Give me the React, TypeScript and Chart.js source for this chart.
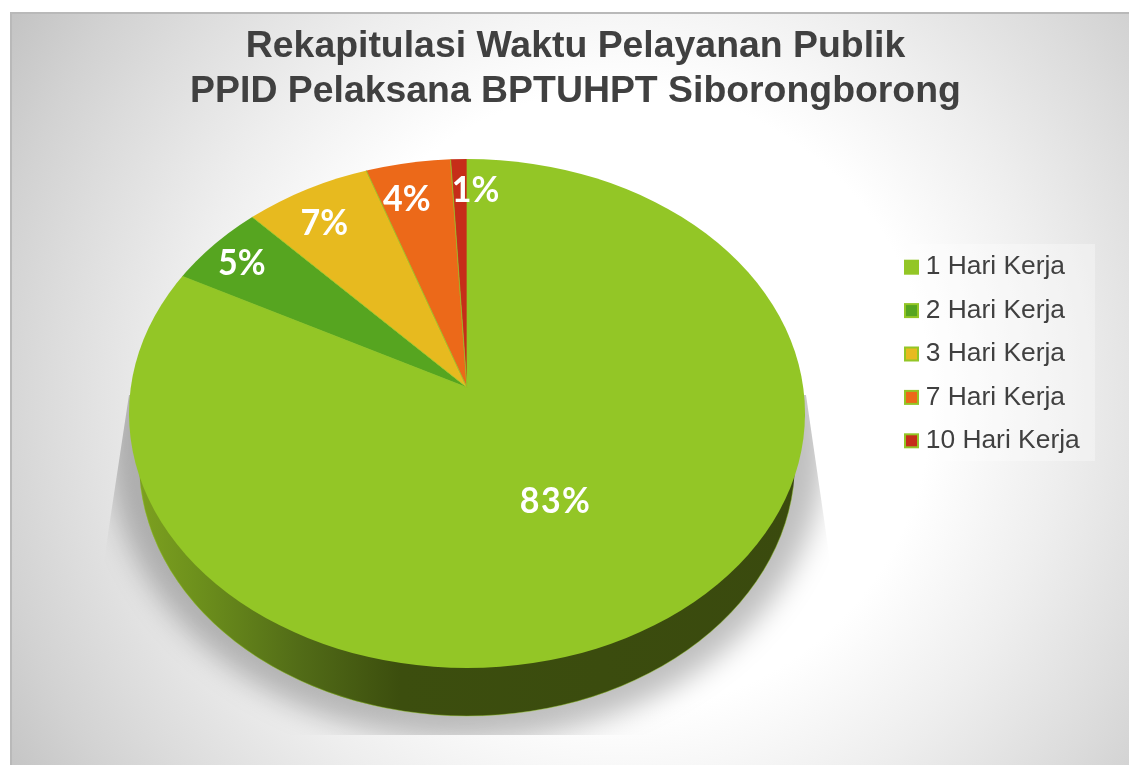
import React, { useEffect, useRef } from "react";
import { Chart, registerables } from "chart.js";

Chart.register(...registerables);

const categories = ["1 Hari Kerja", "2 Hari Kerja", "3 Hari Kerja", "7 Hari Kerja", "10 Hari Kerja"];
const values = [83.1, 5.4, 6.5, 4.2, 0.8];
const colors = ["#93c626", "#56a520", "#e7ba1f", "#ec6919", "#c62d19"];
const titleLines = ["Rekapitulasi Waktu Pelayanan Publik", "PPID Pelaksana BPTUHPT Siborongborong"];

const APEX = { x: 467, y: 387.5 };
const TOP = { cy: 413.5, rx: 338, ry: 254.5 };
const WALL = { cy: 461.5, rx: 328, ry: 254.5 };
const ASPECT = 0.7;
const labelRadius = [0.5, 0.86, 0.84, 0.9, 0.87];
const labelShiftX = [3, 1, -2, -5, 16];
const labelShiftY = [-8, -2, 1, 12, -1];

const paintBackground = (ctx: CanvasRenderingContext2D, w: number, h: number) => {
  ctx.save();
  const cx = 620, cy = 400;
  const g = ctx.createRadialGradient(cx, cy, 0, cx, cy, 740);
  g.addColorStop(0, "#ffffff");
  g.addColorStop(0.42, "#ffffff");
  g.addColorStop(0.6, "#eeeeee");
  g.addColorStop(0.77, "#dcdcdc");
  g.addColorStop(0.86, "#d2d2d2");
  g.addColorStop(1, "#c0c0c0");
  ctx.fillStyle = g;
  ctx.fillRect(10, 12, w - 10, h - 12);
  ctx.fillStyle = "#b9b9b9";
  ctx.fillRect(10, 12, w - 10, 2);
  ctx.fillRect(10, 12, 2, h - 12);
  ctx.fillStyle = "rgba(255,255,255,0.32)";
  ctx.fillRect(890, 244, 205, 217);
  ctx.restore();
};

const paintShadow = (ctx: CanvasRenderingContext2D) => {
  ctx.save();
  ctx.beginPath();
  ctx.moveTo(129, 395);
  ctx.lineTo(806, 395);
  ctx.lineTo(830, 560);
  ctx.lineTo(830, 735);
  ctx.lineTo(104, 735);
  ctx.lineTo(104, 560);
  ctx.closePath();
  ctx.clip();
  ctx.filter = "blur(14px)";
  ctx.fillStyle = "rgba(0,0,0,0.25)";
  ctx.beginPath();
  ctx.ellipse(467, 445, 358, 295, 0, 0, Math.PI * 2);
  ctx.fill();
  ctx.restore();
};

const paintWall = (ctx: CanvasRenderingContext2D) => {
  ctx.save();
  const g = ctx.createLinearGradient(130, 0, 805, 0);
  g.addColorStop(0, "#7fa320");
  g.addColorStop(0.1, "#6d901c");
  g.addColorStop(0.25, "#526c17");
  g.addColorStop(0.4, "#3c4e0e");
  g.addColorStop(1, "#3a4a0e");
  ctx.fillStyle = g;
  ctx.beginPath();
  ctx.ellipse(467, WALL.cy, WALL.rx, WALL.ry, 0, 0, Math.PI);
  ctx.lineTo(129, TOP.cy);
  ctx.lineTo(805, TOP.cy);
  ctx.closePath();
  ctx.fill();
  ctx.strokeStyle = "rgba(147,198,38,0.45)";
  ctx.lineWidth = 1;
  ctx.beginPath();
  ctx.ellipse(467, WALL.cy, WALL.rx, WALL.ry, 0, 0.1, Math.PI - 0.1);
  ctx.stroke();
  ctx.restore();
};

const piePlugin = {
  id: "tiltedPie",
  beforeDraw(chart: any) {
    paintBackground(chart.ctx, chart.width, chart.height);
  },
  afterLayout(chart: any) {
    const l = chart.legend;
    const w = l.width, h = l.height;
    const left = 904 - 17, top = 237;
    l.left = left; l.right = left + w; l.top = top; l.bottom = top + h;
  },
  beforeDatasetDraw(chart: any, args: any) {
    const ctx = chart.ctx as CanvasRenderingContext2D;
    const meta = args.meta;
    const arc0 = meta.data[0];
    const s = 440 / arc0.outerRadius;
    paintShadow(ctx);
    paintWall(ctx);
    ctx.save();
    ctx.beginPath();
    ctx.ellipse(467, TOP.cy, TOP.rx, TOP.ry, 0, 0, Math.PI * 2);
    ctx.clip();
    ctx.translate(APEX.x, APEX.y);
    ctx.scale(s, s * ASPECT);
    ctx.translate(-arc0.x, -arc0.y);
    meta.data.forEach((a: any) => a.draw(ctx));
    ctx.restore();
    return false;
  },
  afterDatasetsDraw(chart: any) {
    const ctx = chart.ctx as CanvasRenderingContext2D;
    const meta = chart.getDatasetMeta(0);
    meta.data.forEach((a: any, i: number) => {
      const mid = (a.startAngle + a.endAngle) / 2;
      const sin = Math.sin(mid);
      const f = labelRadius[i];
      const x = APEX.x + Math.cos(mid) * TOP.rx * f + labelShiftX[i];
      const y = APEX.y + sin * (sin < 0 ? 226 : 283) * f + labelShiftY[i];
      ctx.save();
      ctx.fillStyle = "#ffffff";
      ctx.font = '700 34px "Lato"';
      ctx.textAlign = "center";
      ctx.textBaseline = "middle";
      (ctx as any).letterSpacing = i === 0 ? "1.5px" : "0px";
      ctx.translate(x, y);
      ctx.scale(1, 1.08);
      ctx.fillText(`${Math.round(values[i])}%`, 0, 0);
      ctx.restore();
    });
  },
  afterDraw(chart: any) {
    const ctx = chart.ctx as CanvasRenderingContext2D;
    const boxes = chart.legend.legendHitBoxes;
    ctx.save();
    boxes.forEach((b: any, i: number) => {
      const y = b.top + b.height / 2 - 7.5;
      ctx.fillStyle = "#93c626";
      ctx.fillRect(b.left, y, 15, 15);
      ctx.fillStyle = colors[i];
      ctx.fillRect(b.left + 2, y + 2, 11, 11);
    });
    ctx.restore();
  },
};

export default function App() {
  const ref = useRef<HTMLCanvasElement>(null);
  useEffect(() => {
    const chart = new Chart(ref.current as HTMLCanvasElement, {
      type: "pie",
      data: {
        labels: categories,
        datasets: [{ data: values, backgroundColor: colors, borderColor: "#93c626", borderWidth: 0.6 }],
      },
      options: {
        responsive: false,
        animation: false,
        layout: { padding: { left: 22, top: 17 } },
        plugins: {
          tooltip: { enabled: false },
          title: {
            display: true,
            text: titleLines,
            color: "#404040",
            font: { family: '"Liberation Sans"', size: 37.4, weight: "bold", lineHeight: 1.18 },
            padding: { top: 8, bottom: 10 },
          },
          legend: {
            position: "right",
            align: "start",
            labels: {
              color: "#404040",
              font: { family: '"Liberation Sans"', size: 26.4 },
              boxWidth: 8.5,
              boxHeight: 15,
              padding: 17,
              generateLabels: (c: any) =>
                c.data.labels.map((t: string, i: number) => ({
                  text: t,
                  fillStyle: "rgba(0,0,0,0)",
                  strokeStyle: "rgba(0,0,0,0)",
                  lineWidth: 0,
                  index: i,
                  fontColor: "#404040",
                })),
            },
          },
        },
      } as any,
      plugins: [piePlugin],
    });
    return () => chart.destroy();
  }, []);
  return (
    <div style={{ position: "fixed", left: 0, top: 0 }}>
      <canvas ref={ref} width={1129} height={765} style={{ display: "block" }} />
    </div>
  );
}
